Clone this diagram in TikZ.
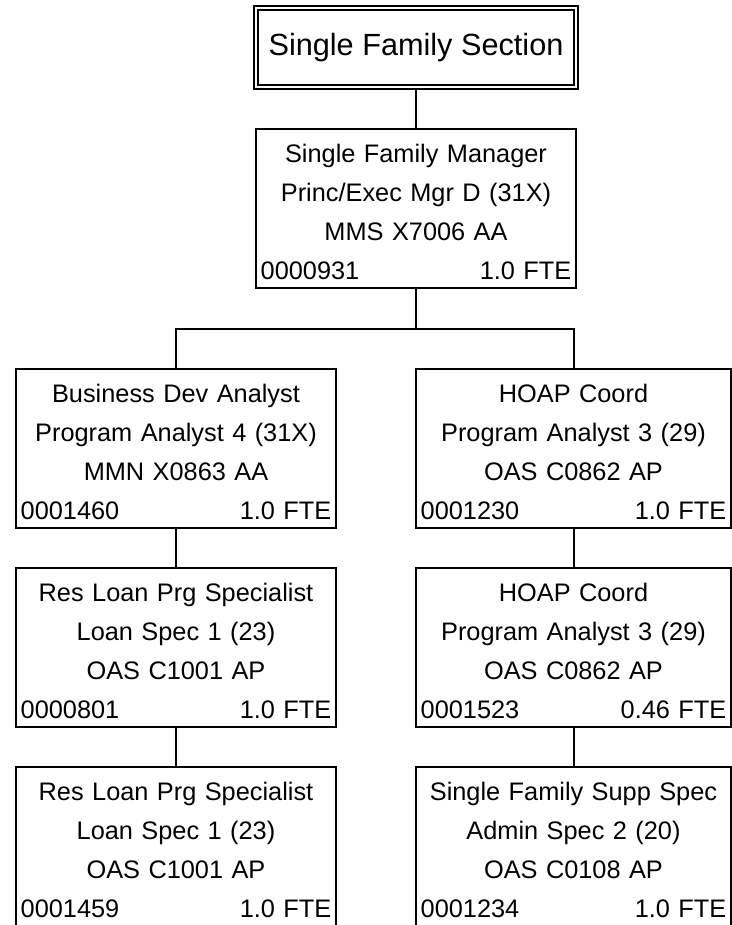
\documentclass[tikz,border=0pt]{standalone}
\usepackage{fontspec}
\setmainfont{Liberation Sans}
\usepackage{tikz}
\newcommand{\posttext}[5]{\rule{0pt}{19pt}#1\\#2\\#3\\#4\hfill #5}

\begin{document}
\begin{tikzpicture}[x=0.75pt,y=-0.75pt,
  post/.style={draw,line width=1.5pt,minimum width=240pt,minimum height=119.25pt,
    text width=233pt,inner xsep=3.5pt,inner ysep=0pt,align=center,
    font=\fontsize{19pt}{29.4pt}\selectfont},
  postcut/.style={post,minimum width=236.25pt,text width=229.25pt},
  section/.style={draw,double,line width=1.5pt,double distance=1.5pt,
    minimum width=240pt,minimum height=59.6pt,font=\fontsize{23pt}{27pt}\selectfont},
  link/.style={line width=1.5pt}]
\useasboundingbox (0,0) rectangle (732,925);
\clip (0,0) rectangle (732,925);
\node[section] (title) at (416,47.75) {Single Family Section};
\node[post] (manager) at (416,208.5)
  {\posttext{Single Family Manager}{Princ/Exec Mgr D (31X)}{MMS X7006 AA}{0000931}{1.0 FTE}};
% left column
\node[post] (bizdev) at (176,448.5)
  {\posttext{Business Dev Analyst}{Program Analyst 4 (31X)}{MMN X0863 AA}{0001460}{1.0 FTE}};
\node[post] (resloanA) at (176,647.5)
  {\posttext{Res Loan Prg Specialist}{Loan Spec 1 (23)}{OAS C1001 AP}{0000801}{1.0 FTE}};
\node[post] (resloanB) at (176,846.5)
  {\posttext{Res Loan Prg Specialist}{Loan Spec 1 (23)}{OAS C1001 AP}{0001459}{1.0 FTE}};
% right column
\node[postcut] (hoapA) at (573.5,448.5)
  {\posttext{HOAP Coord}{Program Analyst 3 (29)}{OAS C0862 AP}{0001230}{1.0 FTE}};
\node[postcut] (hoapB) at (573.5,647.5)
  {\posttext{HOAP Coord}{Program Analyst 3 (29)}{OAS C0862 AP}{0001523}{0.46 FTE}};
\node[postcut] (suppspec) at (573.5,846.5)
  {\posttext{Single Family Supp Spec}{Admin Spec 2 (20)}{OAS C0108 AP}{0001234}{1.0 FTE}};
\coordinate (split) at (416,329);
\draw[link] (title) -- (manager);
\draw[link] (manager) -- (split);
\draw[link] (split) -| (bizdev);
\draw[link] (split) -| (hoapA);
\draw[link] (bizdev) -- (resloanA);
\draw[link] (resloanA) -- (resloanB);
\draw[link] (hoapA) -- (hoapB);
\draw[link] (hoapB) -- (suppspec);
\end{tikzpicture}
\end{document}
